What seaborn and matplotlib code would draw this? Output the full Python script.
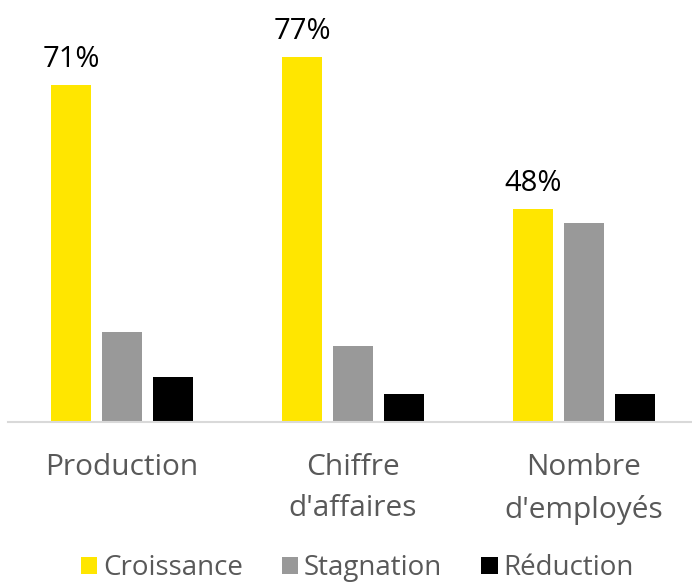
import pandas as pd
import seaborn as sns
import matplotlib.pyplot as plt

categories = ['Production', "Chiffre\nd'affaires", "Nombre\nd'employés"]
series = ['Croissance', 'Stagnation', 'Réduction']
croissance = [71, 77, 45]
stagnation = [19, 16, 42]
reduction = [9.5, 6, 6]
croissance_labels = ['71%', '77%', '48%']
colors = ['#FFE600', '#999999', '#000000']

data = pd.DataFrame({
    'Catégorie': categories * 3,
    'Série': [s for s in series for _ in categories],
    'Valeur': croissance + stagnation + reduction,
})

sns.set_theme(style='white')
plt.rcParams['font.family'] = ['Open Sans', 'DejaVu Sans']

fig = plt.figure(figsize=(6.92, 5.83), dpi=100)
ax = fig.add_axes([8 / 692, (583 - 422) / 583, 684 / 692, 422 / 583])

sns.barplot(data=data, x='Catégorie', y='Valeur', hue='Série', palette=colors,
            width=0.662, gap=0.216, linewidth=0, saturation=1, ax=ax)

ax.bar_label(ax.containers[0], labels=croissance_labels, padding=8,
             fontsize=21, color='#000000')

ax.set_xlim(-0.494, 2.468)
ax.set_ylim(0, 89)
ax.set_xlabel('')
ax.set_ylabel('')
ax.set_yticks([])
ax.tick_params(axis='x', length=0, labelsize=21.5, labelcolor='#595959', pad=22)
for lbl in ax.get_xticklabels():
    lbl.set_linespacing(1.58)
for side in ['top', 'right', 'left']:
    ax.spines[side].set_visible(False)
ax.spines['bottom'].set_color('#d9d9d9')
ax.spines['bottom'].set_linewidth(1.5)

ax.legend(loc='center', bbox_to_anchor=(0.516, 0.025), bbox_transform=fig.transFigure,
          ncol=3, frameon=False, fontsize=20, labelcolor='#595959',
          handlelength=0.6, handleheight=0.6, handletextpad=0.2, columnspacing=1.4)

plt.savefig('out.png', dpi=100)
